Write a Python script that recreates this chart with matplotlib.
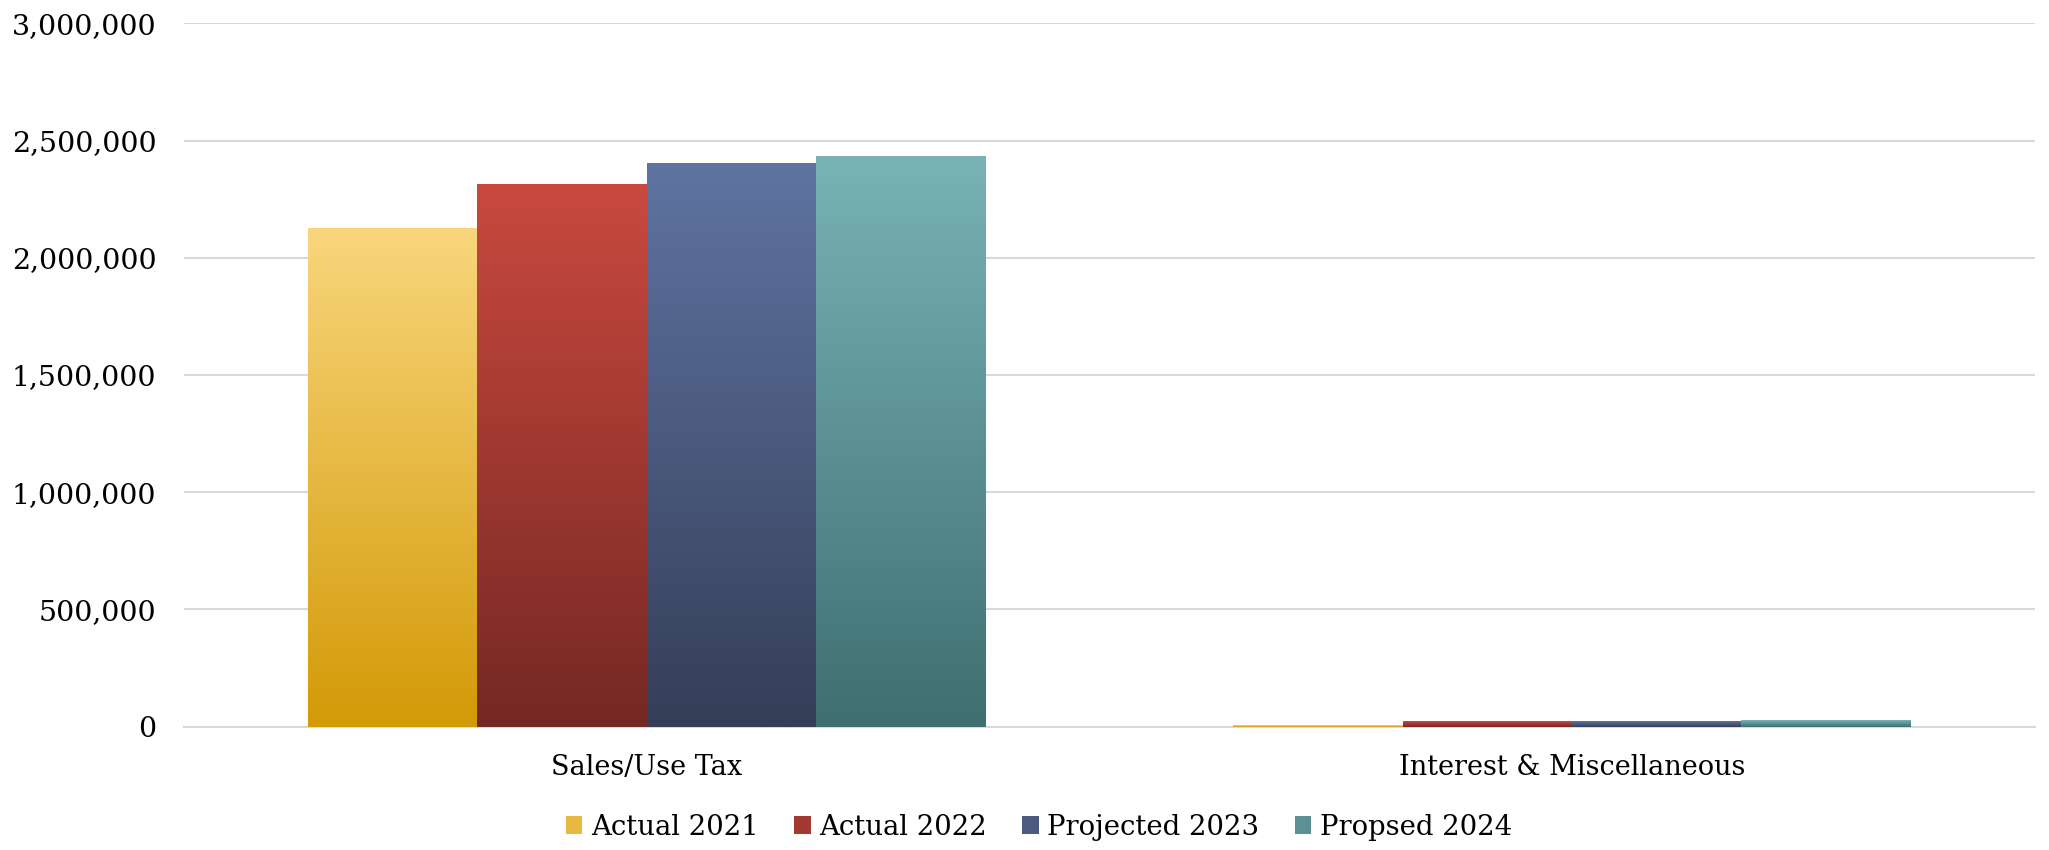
import numpy as np
import matplotlib
matplotlib.use('Agg')
import matplotlib.pyplot as plt
from matplotlib.colors import LinearSegmentedColormap
from matplotlib.patches import Patch
from matplotlib.ticker import FuncFormatter

categories = ['Sales/Use Tax', 'Interest & Miscellaneous']
series = ['Actual 2021', 'Actual 2022', 'Projected 2023', 'Propsed 2024']
actual_2021 = [2128000, 6000]
actual_2022 = [2316000, 22000]
projected_2023 = [2405000, 22000]
proposed_2024 = [2435000, 27000]
values = [actual_2021, actual_2022, projected_2023, proposed_2024]

# gradient (top, bottom) per series
grad_colors = [('#F9D67C', '#D39A07'),
               ('#C9493F', '#752823'),
               ('#5F74A2', '#353E57'),
               ('#79B3B6', '#3E6F71')]
mid_colors = ['#E9B840', '#A23A32', '#4B5A7F', '#5C9194']

plt.rc('font', family='DejaVu Serif', size=20.5)

fig = plt.figure(figsize=(20.49, 8.5), dpi=100)
ax = fig.add_axes([0.0898, 0.1452, 0.9032, 0.8272])

x = np.arange(len(categories))
w = 0.183
grad = np.linspace(0, 1, 256).reshape(-1, 1)

for i, (vals, (top, bot)) in enumerate(zip(values, grad_colors)):
    bars = ax.bar(x + (i - 1.5) * w, vals, width=w, color=mid_colors[i],
                  linewidth=0, zorder=2)
    cmap = LinearSegmentedColormap.from_list('g%d' % i, [bot, top])
    for b in bars:
        x0, y0 = b.get_x(), b.get_y()
        im = ax.imshow(grad, extent=[x0, x0 + b.get_width(), y0, y0 + b.get_height()],
                       origin='lower', aspect='auto', cmap=cmap, zorder=3)
        im.set_clip_path(b)

ax.set_xlim(-0.5, 1.5)
ax.set_ylim(0, 3000000)
ax.set_yticks(np.arange(0, 3000001, 500000))
ax.yaxis.set_major_formatter(FuncFormatter(lambda v, p: '{:,.0f}'.format(v)))
ax.set_xticks(x)
ax.set_xticklabels(categories)
ax.tick_params(axis='both', length=0, colors='black')
ax.tick_params(axis='y', pad=20)
ax.tick_params(axis='x', pad=20, labelsize=19.5)
ax.grid(axis='y', color='#D9D9D9', linewidth=1.5, zorder=0)
ax.set_axisbelow(True)
for s in ['top', 'right', 'left']:
    ax.spines[s].set_visible(False)
ax.spines['bottom'].set_color('#D9D9D9')
ax.spines['bottom'].set_linewidth(1.5)

handles = [Patch(facecolor=c, label=s) for c, s in zip(mid_colors, series)]
fig.legend(handles=handles, loc='center', bbox_to_anchor=(0.507, 0.027), ncol=4,
           frameon=False, handlelength=0.6, handleheight=0.6, handletextpad=0.3,
           columnspacing=1.3, fontsize=19.8)

fig.savefig('out.png', dpi=100)
